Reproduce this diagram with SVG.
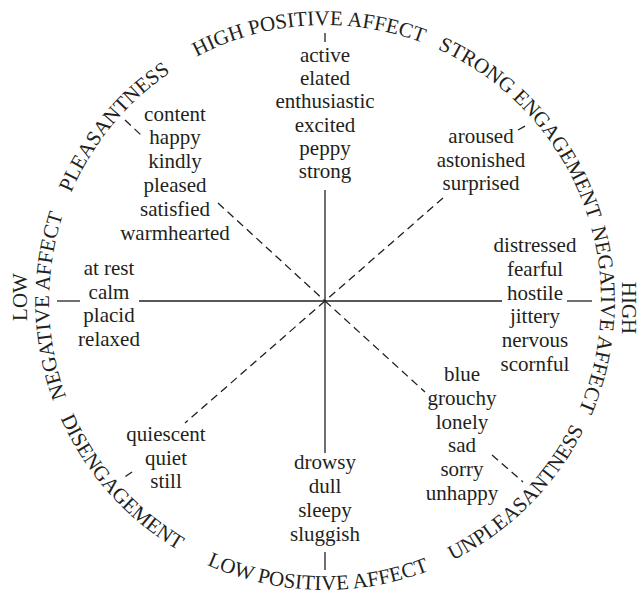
<svg xmlns="http://www.w3.org/2000/svg" xmlns:xlink="http://www.w3.org/1999/xlink" width="639" height="594" viewBox="0 0 639 594">
<style>
  text { font-family: "Liberation Serif", "Times New Roman", serif; font-size: 21px; fill: #231f20; }
  .w { text-anchor: middle; }
  .axis { stroke: #231f20; stroke-width: 1.3; fill: none; }
  .dash { stroke: #231f20; stroke-width: 1.3; fill: none; stroke-dasharray: 8 5; }
</style>
<defs>
  <path id="arcHPA" d="M 50.8 269.8 A 276 276 0 0 1 593.4 236.6"/>
  <path id="arcSE" d="M 180.8 65.7 A 276 276 0 0 1 541.0 472.8"/>
  <path id="arcHNA" d="M 391.8 33.2 A 276 276 0 0 1 353.9 575.5"/>
  <path id="arcLNA" d="M 281.8 573.6 A 276 276 0 0 1 272.3 30.1"/>
  <path id="arcP" d="M 115.1 480.2 A 276 276 0 0 1 460.9 60.8"/>
  <path id="arcD" d="M 98.3 121.7 A 289 289 0 0 0 476.9 546.9"/>
  <path id="arcLPA" d="M 39.2 343.7 A 289 289 0 0 0 608.2 358.6"/>
  <path id="arcU" d="M 158.8 537.4 A 289 289 0 0 0 562.0 135.6"/>
</defs>

<g id="connectors">
  <line class="axis" x1="325" y1="33" x2="325" y2="42"/>
  <line class="axis" x1="325" y1="190" x2="325" y2="453"/>
  <line class="axis" x1="325" y1="552" x2="325" y2="570"/>
  <line class="axis" x1="57" y1="301" x2="80" y2="301"/>
  <line class="axis" x1="139" y1="301" x2="502" y2="301"/>
  <line class="axis" x1="567" y1="301" x2="592" y2="301"/>
  <line class="dash" x1="125" y1="120" x2="141" y2="135"/>
  <line class="dash" x1="218" y1="203" x2="325" y2="301"/>
  <line class="dash" x1="518" y1="130" x2="527" y2="125"/>
  <line class="dash" x1="443" y1="198" x2="325" y2="301"/>
  <line class="dash" x1="325" y1="301" x2="425" y2="392"/>
  <line class="dash" x1="492" y1="455" x2="523" y2="482"/>
  <line class="dash" x1="325" y1="301" x2="185" y2="423"/>
  <line class="dash" x1="132" y1="472" x2="122" y2="479"/>
</g>

<g id="high-positive-affect">
  <text><textPath xlink:href="#arcHPA" href="#arcHPA" startOffset="50%" text-anchor="middle">HIGH POSITIVE AFFECT</textPath></text>
  <text class="w" x="325" y="62">active</text>
  <text class="w" x="325" y="85.2">elated</text>
  <text class="w" x="325" y="108.4">enthusiastic</text>
  <text class="w" x="325" y="131.6">excited</text>
  <text class="w" x="325" y="154.8">peppy</text>
  <text class="w" x="325" y="178">strong</text>
</g>

<g id="strong-engagement">
  <text><textPath xlink:href="#arcSE" href="#arcSE" startOffset="50%" text-anchor="middle">STRONG ENGAGEMENT</textPath></text>
  <text class="w" x="481" y="143.3">aroused</text>
  <text class="w" x="481" y="166.8">astonished</text>
  <text class="w" x="481" y="190.3">surprised</text>
</g>

<g id="high-negative-affect">
  <text transform="translate(621.5 308) rotate(90)" class="w">HIGH</text>
  <text><textPath xlink:href="#arcHNA" href="#arcHNA" startOffset="50%" text-anchor="middle">NEGATIVE AFFECT</textPath></text>
  <text class="w" x="535" y="252">distressed</text>
  <text class="w" x="535" y="275.8">fearful</text>
  <text class="w" x="535" y="299.6">hostile</text>
  <text class="w" x="535" y="323.4">jittery</text>
  <text class="w" x="535" y="347.2">nervous</text>
  <text class="w" x="535" y="371">scornful</text>
</g>

<g id="unpleasantness">
  <text><textPath xlink:href="#arcU" href="#arcU" startOffset="50%" text-anchor="middle">UNPLEASANTNESS</textPath></text>
  <text class="w" x="462" y="381">blue</text>
  <text class="w" x="462" y="404.8">grouchy</text>
  <text class="w" x="462" y="428.6">lonely</text>
  <text class="w" x="462" y="452.4">sad</text>
  <text class="w" x="462" y="476.2">sorry</text>
  <text class="w" x="462" y="500">unhappy</text>
</g>

<g id="low-positive-affect">
  <text><textPath xlink:href="#arcLPA" href="#arcLPA" startOffset="50%" text-anchor="middle">LOW POSITIVE AFFECT</textPath></text>
  <text class="w" x="325" y="469.3">drowsy</text>
  <text class="w" x="325" y="493.1">dull</text>
  <text class="w" x="325" y="516.9">sleepy</text>
  <text class="w" x="325" y="540.7">sluggish</text>
</g>

<g id="disengagement">
  <text><textPath xlink:href="#arcD" href="#arcD" startOffset="50%" text-anchor="middle">DISENGAGEMENT</textPath></text>
  <text class="w" x="166" y="441">quiescent</text>
  <text class="w" x="166" y="464.5">quiet</text>
  <text class="w" x="166" y="488">still</text>
</g>

<g id="low-negative-affect">
  <text transform="translate(27 297) rotate(-90)" class="w">LOW</text>
  <text><textPath xlink:href="#arcLNA" href="#arcLNA" startOffset="50%" text-anchor="middle">NEGATIVE AFFECT</textPath></text>
  <text class="w" x="109" y="275">at rest</text>
  <text class="w" x="109" y="298.5">calm</text>
  <text class="w" x="109" y="322">placid</text>
  <text class="w" x="109" y="345.5">relaxed</text>
</g>

<g id="pleasantness">
  <text><textPath xlink:href="#arcP" href="#arcP" startOffset="50%" text-anchor="middle">PLEASANTNESS</textPath></text>
  <text class="w" x="175" y="120.5">content</text>
  <text class="w" x="175" y="144.3">happy</text>
  <text class="w" x="175" y="168.1">kindly</text>
  <text class="w" x="175" y="191.9">pleased</text>
  <text class="w" x="175" y="215.7">satisfied</text>
  <text class="w" x="175" y="239.5">warmhearted</text>
</g>
</svg>
